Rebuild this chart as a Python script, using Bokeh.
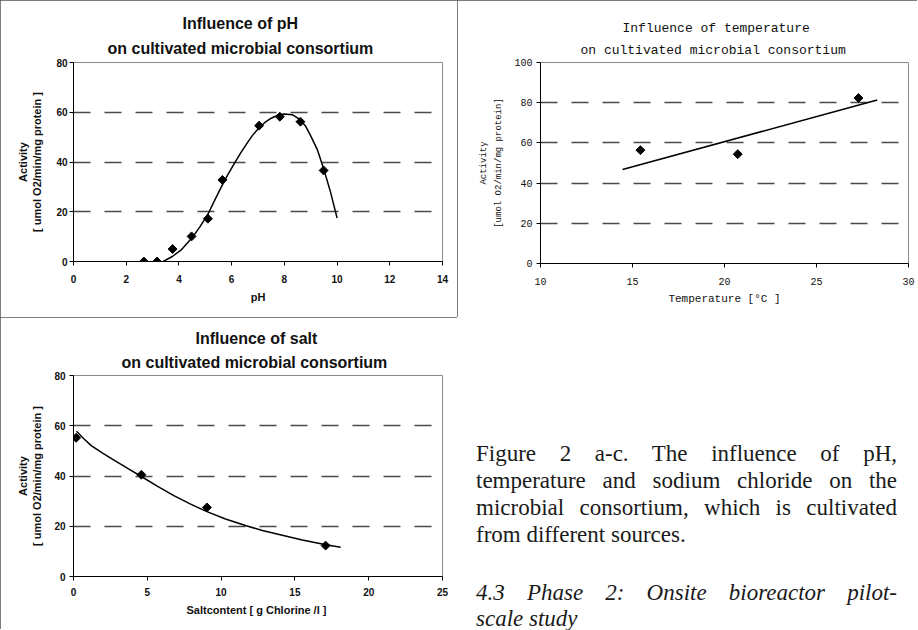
import numpy as np
from bokeh.plotting import figure
from bokeh.models import Range1d, FixedTicker, Div, Title
from bokeh.layouts import row, column
from bokeh.embed import file_html
from bokeh.resources import INLINE

# ---------------- data ----------------
# a) pH
ph_x = [2.67, 3.17, 3.76, 4.48, 5.10, 5.65, 7.04, 7.83, 8.61, 9.49]
ph_y = [0.0, 0.0, 5.0, 10.1, 17.2, 32.8, 54.6, 58.2, 56.2, 36.6]
ph_fit_x = [3.4, 3.75, 4.1, 4.5, 4.8, 5.1, 5.35, 5.6, 5.85, 6.1, 6.35, 6.6, 6.8, 7.0, 7.25, 7.5,
            7.75, 8.0, 8.3, 8.6, 8.8, 9.0, 9.25, 9.5, 9.75, 10.0]
ph_fit_y = [0.0, 2.0, 4.8, 9.5, 14.0, 19.0, 24.5, 29.8, 34.8, 39.3, 43.8, 47.8, 50.8, 53.3, 55.8, 57.6,
            58.8, 59.3, 59.0, 57.0, 54.5, 50.5, 45.0, 37.0, 28.0, 17.5]
ph_xticks = [0, 2, 4, 6, 8, 10, 12, 14]
ph_yticks = [0, 20, 40, 60, 80]

# b) temperature
temp_x = [15.43, 20.72, 27.28]
temp_y = [56.4, 54.4, 82.3]
temp_fit_x = [14.46, 28.3]
temp_fit_y = [46.8, 81.3]
temp_xticks = [10, 15, 20, 25, 30]
temp_yticks = [0, 20, 40, 60, 80, 100]

# c) salt
salt_x = [0.18, 4.60, 9.04, 17.08]
salt_y = [55.2, 40.5, 27.5, 12.3]
salt_fit_x = [0.2, 0.7, 1.2, 2.0, 2.8, 3.7, 4.6, 5.7, 6.8, 7.9, 9.0, 10.3, 11.7, 12.8, 14.0, 15.5, 17.1, 18.1]
salt_fit_y = [57.8, 54.8, 52.1, 49.0, 46.1, 42.9, 39.8, 35.9, 32.2, 28.9, 25.9, 22.9, 20.2, 18.3, 16.6, 14.5, 12.6, 11.6]
salt_xticks = [0, 5, 10, 15, 20, 25]
salt_yticks = [0, 20, 40, 60, 80]

SANS = "Liberation Sans"
MONO = "Liberation Mono"
BOX = {"outline": "1px solid #555", "outline-offset": "-1px"}


def setup(p, font, tick_px, tick_style, lab_px, lab_style, xticks, yticks, grid,
          x_std, x_lab_std, y_std, y_lab_std):
    p.background_fill_color = "white"
    p.border_fill_color = "white"
    p.outline_line_color = "#8a8a8a"
    p.outline_line_width = 1
    p.xgrid.visible = False
    p.ygrid.ticker = FixedTicker(ticks=grid)
    p.ygrid.grid_line_color = "#4a4a4a"
    p.ygrid.grid_line_dash = "17 14"
    p.ygrid.grid_line_width = 1.3
    p.xaxis.ticker = FixedTicker(ticks=xticks)
    p.yaxis.ticker = FixedTicker(ticks=yticks)
    for ax in (p.xaxis[0], p.yaxis[0]):
        ax.axis_line_color = "black"
        ax.axis_line_width = 1
        ax.major_tick_line_color = "black"
        ax.major_tick_out = 4
        ax.major_tick_in = 0
        ax.minor_tick_line_color = None
        ax.major_label_text_font = font
        ax.major_label_text_font_size = tick_px
        ax.major_label_text_font_style = tick_style
        ax.major_label_text_color = "#111111"
        ax.axis_label_text_font = font
        ax.axis_label_text_font_size = lab_px
        ax.axis_label_text_font_style = lab_style
        ax.axis_label_text_color = "#111111"
    p.xaxis.major_label_standoff = x_std
    p.xaxis.axis_label_standoff = x_lab_std
    p.yaxis.major_label_standoff = y_std
    p.yaxis.axis_label_standoff = y_lab_std


def set_titles(p, line1, line2, font, size, style, off1, off2, std_far, std_close):
    # the upper line is the figure's own title, the lower line an added Title (closest to the frame)
    p.title.text = line1
    p.title.align = "left"
    p.title.offset = off1
    p.title.standoff = std_far
    p.title.text_font = font
    p.title.text_font_size = size
    p.title.text_font_style = style
    p.title.text_color = "#111111"
    t2 = Title(text=line2, align="left", offset=off2, standoff=std_close, text_font=font,
               text_font_size=size, text_font_style=style, text_color="#111111")
    p.add_layout(t2, "above")


# ---------------- chart a: pH ----------------
pa = figure(width=457, height=317, output_backend="svg", toolbar_location=None,
            x_range=Range1d(0, 14), y_range=Range1d(0, 80),
            min_border_left=73, min_border_right=10, min_border_top=62, min_border_bottom=56,
            x_axis_label="pH", y_axis_label="Activity\n[ umol O2/min/mg protein ]",
            styles=BOX)
setup(pa, SANS, "10px", "bold", "11px", "bold", ph_xticks, ph_yticks, [20, 40, 60], 9, 5, 2, 10)
set_titles(pa, "Influence of pH", "on cultivated microbial consortium", SANS, "16px", "bold",
           109, 34, 0, 12)
pa.line(ph_fit_x, ph_fit_y, line_color="black", line_width=1.5)
pa.scatter(ph_x, ph_y, marker="square", angle=np.pi / 4, size=6.3, color="black")

# ---------------- chart b: temperature ----------------
pb = figure(width=460, height=317, output_backend="svg", toolbar_location=None,
            x_range=Range1d(10, 30), y_range=Range1d(0, 100),
            min_border_left=83, min_border_right=9, min_border_top=62, min_border_bottom=54,
            x_axis_label="Temperature [°C ]", y_axis_label="Activity\n[umol O2/min/mg protein]",
            styles=BOX)
setup(pb, MONO, "10px", "normal", "11px", "normal", temp_xticks, temp_yticks, [20, 40, 60, 80], 10, 5, 4, 7)
pb.yaxis.axis_label_text_font_size = "9px"
pb.yaxis.axis_label_text_line_height = 1.5
set_titles(pb, "Influence of temperature", "on cultivated microbial consortium", MONO, "13px", "normal",
           82, 40, 2, 9)
pb.line(temp_fit_x, temp_fit_y, line_color="black", line_width=1.6)
pb.scatter(temp_x, temp_y, marker="square", angle=np.pi / 4, size=6.3, color="black")

# ---------------- chart c: salt ----------------
pc = figure(width=457, height=312, output_backend="svg", toolbar_location=None,
            x_range=Range1d(0, 25), y_range=Range1d(0, 80),
            min_border_left=70, min_border_right=15, min_border_top=58, min_border_bottom=53,
            x_axis_label="Saltcontent  [ g Chlorine /l ]",
            y_axis_label="Activity\n[ umol O2/min/mg protein ]",
            styles=BOX)
setup(pc, SANS, "10px", "bold", "11px", "bold", salt_xticks, salt_yticks, [20, 40, 60], 7, 5, 4, 8)
set_titles(pc, "Influence of salt", "on cultivated microbial consortium", SANS, "16px", "bold",
           122, 48, 0, 10)
pc.line(salt_fit_x, salt_fit_y, line_color="black", line_width=1.5)
pc.scatter(salt_x, salt_y, marker="square", angle=np.pi / 4, size=6.3, color="black")

# ---------------- caption text ----------------
J = "text-align:justify; text-align-last:justify;"
html = (
    "<div style=\"font-family:'Liberation Serif', serif; font-size:23px; line-height:27px;"
    " color:#1a1a1a; box-sizing:content-box; padding-left:14px; padding-top:118px; width:421px;\">"
    f"<div style='{J}'>Figure 2 a-c. The influence of pH,</div>"
    f"<div style='{J}'>temperature and sodium chloride on the</div>"
    f"<div style='{J}'>microbial consortium, which is cultivated</div>"
    "<div>from different sources.</div>"
    "<div style='margin-top:32px; font-style:italic; line-height:26px;'>"
    f"<div style='{J}'>4.3 Phase 2: Onsite bioreactor pilot-</div>"
    "<div>scale study</div></div>"
    "</div>"
)
div = Div(text=html, width=460, height=312, styles={"overflow": "hidden"})

layout = row(column(pa, pc), column(pb, div))

open("out.html", "w").write(file_html(layout, INLINE))
